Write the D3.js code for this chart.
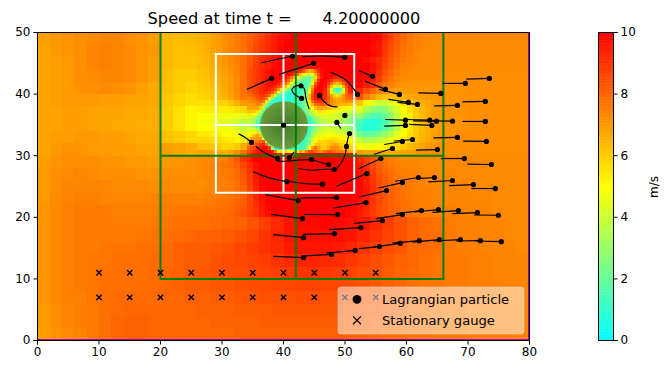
<!DOCTYPE html>
<html>
<head>
<meta charset="utf-8">
<script src="https://cdn.jsdelivr.net/npm/d3@7"></script>
<style>
  body { margin: 0; background: #fff; }
  text { font-family: "DejaVu Sans", sans-serif; fill: #000; }
</style>
</head>
<body>
<svg id="svg" width="669" height="374"></svg>
<script>
// speed in tenths of m/s. rows run top to bottom
var coarseX0 = 0, coarseStep = 2, coarseTopY = 48;
var coarseSpeed = [
[69,70,71,72,73,74,74,72,71,69,64,63,64,66,72,76,82,90,98,100,100,100,100,100,100,100,100,98,88,80,76,74,73,73,73,73,73,73,73,73],
[68,70,71,72,74,75,74,73,71,70,64,62,63,65,71,75,82,90,98,100,100,100,100,100,100,100,100,96,86,78,75,74,73,73,73,73,73,73,73,73],
[68,69,70,72,74,75,74,73,71,69,64,62,62,64,70,74,83,92,98,100,100,96,96,100,100,100,100,95,84,78,74,73,73,73,73,73,73,73,73,73],
[68,69,70,72,73,74,74,73,71,69,63,60,60,62,68,73,83,94,100,75,25,30,90,100,90,100,98,92,80,74,72,72,72,72,72,72,72,72,72,72],
[68,69,70,71,72,73,72,71,69,67,62,60,58,60,66,73,83,94,70,20,25,85,90,30,90,92,85,75,70,69,70,70,71,71,71,72,72,72,72,72],
[68,69,70,70,70,69,69,68,68,67,61,58,56,56,58,66,70,60,10,10,15,45,80,72,70,60,45,40,45,55,63,68,70,71,71,72,72,72,72,72],
[68,68,69,69,68,68,68,67,67,66,60,56,52,50,48,47,45,25,10,10,10,25,40,50,46,30,15,15,28,46,60,66,70,71,71,72,72,72,72,72],
[68,68,69,69,68,68,67,67,66,66,60,56,52,50,48,46,38,35,10,10,10,25,45,45,40,25,8,8,26,46,60,66,70,71,71,72,72,72,72,72],
[68,69,69,70,70,69,69,68,67,67,62,60,58,58,56,54,53,70,30,10,10,30,55,50,52,45,34,38,46,54,62,67,71,71,72,72,72,72,72,72],
[68,70,71,71,70,70,69,69,68,68,69,68,66,68,67,68,78,90,98,60,30,55,70,85,78,70,68,66,63,67,70,72,72,72,72,72,72,72,72,72],
[69,71,72,72,72,71,71,70,70,69,70,71,72,73,75,77,81,92,100,100,100,100,100,100,100,100,94,85,78,75,74,74,74,73,73,73,73,73,73,73],
[70,72,73,74,73,72,72,72,71,71,72,72,72,73,74,76,79,89,100,100,100,100,100,100,100,100,98,89,81,77,75,74,74,74,73,73,73,73,73,73],
[70,72,74,74,74,74,73,73,73,72,73,73,73,73,74,76,78,87,100,100,100,100,100,100,100,100,99,91,83,79,76,75,74,74,74,73,73,73,73,73],
[70,73,74,75,75,74,74,74,74,74,75,75,75,75,76,77,80,86,96,100,100,100,100,100,100,99,96,90,84,80,77,75,75,74,74,74,74,73,73,73],
[71,73,75,76,76,76,75,75,75,75,76,77,77,78,79,80,82,87,94,99,100,100,100,100,99,98,95,88,84,80,77,76,75,75,74,74,74,73,73,73],
[71,73,75,76,76,76,76,76,76,76,77,78,78,78,79,80,81,84,88,92,96,98,98,99,98,97,96,92,88,84,81,79,78,76,75,75,74,74,73,73],
[71,73,75,76,76,76,76,76,77,77,78,79,80,81,81,82,84,86,90,93,96,97,97,97,97,96,93,90,87,84,81,79,78,76,75,75,74,74,73,73],
[71,73,75,76,76,77,77,77,78,78,79,81,82,82,83,84,86,88,90,92,95,96,96,96,95,93,90,87,85,83,80,79,78,76,75,75,74,74,74,73],
[71,73,75,76,77,77,78,78,78,79,79,81,82,82,84,85,86,87,88,90,92,93,93,92,91,89,87,85,83,81,80,78,77,76,76,75,75,74,74,74],
[71,73,75,76,77,78,78,78,78,79,80,81,82,83,84,85,85,86,87,88,89,90,90,89,88,87,85,84,82,80,79,78,77,76,76,75,75,74,74,74],
[71,73,75,76,77,78,78,78,79,79,80,81,82,82,83,83,84,85,85,86,86,87,87,86,86,85,84,83,81,80,78,77,77,76,76,75,75,75,74,74],
[71,73,75,75,77,78,79,79,79,79,80,80,81,81,82,82,83,83,84,84,84,85,85,84,84,83,83,82,80,79,78,77,76,76,76,75,75,75,74,74],
[70,72,74,75,76,78,79,80,80,80,80,80,80,81,81,81,82,82,82,83,83,83,83,83,83,82,82,81,80,79,78,77,76,76,76,75,75,75,75,74],
[70,72,74,75,76,78,80,81,81,80,80,80,80,80,81,81,81,81,82,82,82,82,82,82,82,81,81,80,79,78,78,77,76,76,76,75,75,75,75,74],
[69,71,73,74,76,78,80,81,81,80,80,80,80,80,80,80,81,81,81,81,81,81,81,81,81,80,80,79,78,78,77,77,76,76,76,75,75,75,75,74]
];

var fineX0 = 26, fineStep = 1, fineTopY = 49;
var fineSpeed = [
[65,66,68,70,72,74,76,78,81,84,87,90,93,96,98,100,100,100,100,100,100,100,100,100,100,100,100,100,99,98,92,87,83,80,77,75,74,73,73,73],
[65,66,68,70,72,74,76,78,81,85,88,91,94,97,99,100,100,100,100,100,100,100,100,100,100,100,100,100,98,97,91,86,82,79,76,75,74,73,73,73],
[64,66,68,70,72,74,76,78,82,86,89,92,95,98,100,100,100,100,100,100,100,100,100,100,100,100,100,100,97,96,90,85,81,78,76,74,74,73,73,73],
[64,65,67,69,71,73,75,78,82,86,90,93,96,99,100,100,100,100,100,100,100,100,100,100,100,100,100,100,98,96,89,84,80,77,75,74,73,73,73,73],
[63,65,67,69,71,73,75,78,82,87,91,94,97,100,100,100,100,100,100,100,100,100,100,100,100,100,100,98,95,92,88,83,79,76,75,74,73,73,73,73],
[63,64,66,68,70,72,74,78,83,88,92,95,98,100,100,100,100,98,96,97,100,100,100,100,100,100,100,100,97,93,86,82,78,75,74,73,73,73,73,73],
[62,63,65,67,69,71,74,78,83,88,93,96,99,100,98,88,60,45,50,75,95,100,100,100,100,100,100,99,96,91,84,80,76,74,73,73,73,73,73,73],
[61,62,64,66,68,70,73,78,83,88,94,97,100,96,75,45,25,22,30,65,90,97,90,90,97,100,100,98,94,88,81,77,74,73,72,72,72,72,72,72],
[60,61,63,65,67,70,73,78,83,89,95,98,96,72,35,15,18,30,60,92,100,90,65,70,88,100,99,95,90,84,77,74,72,71,71,71,71,71,71,71],
[59,60,62,64,66,69,73,78,83,88,94,92,70,35,20,20,25,38,85,100,92,62,12,30,75,95,92,85,80,75,72,70,69,69,70,70,70,70,71,71],
[58,59,61,63,65,68,72,77,80,82,85,70,20,12,10,12,20,30,55,96,96,85,62,62,78,88,84,75,68,64,62,62,63,65,67,68,69,70,70,71],
[56,56,57,58,59,62,66,70,68,68,55,15,10,10,10,10,12,20,35,55,80,80,75,72,72,70,62,52,45,40,40,45,50,55,60,63,66,68,69,70],
[53,54,54,54,53,54,56,58,55,52,38,12,10,10,10,10,10,12,25,40,55,58,55,55,58,55,45,35,28,25,28,35,42,50,56,60,64,67,69,70],
[50,50,50,48,47,47,46,45,42,35,20,10,10,10,10,10,10,10,15,30,42,48,50,50,48,42,30,20,15,15,20,28,38,46,54,60,63,66,68,70],
[48,48,47,45,44,43,40,36,30,22,12,10,10,10,10,10,10,10,10,25,38,45,45,44,40,30,15,8,6,8,15,24,35,45,53,59,63,66,68,70],
[50,50,49,48,47,46,43,38,32,30,22,10,10,10,10,10,10,10,20,35,42,45,42,40,35,25,12,7,8,10,16,26,36,46,54,60,63,66,68,70],
[54,54,53,52,50,50,48,44,42,65,45,10,10,10,10,10,10,10,25,35,45,48,48,45,42,32,22,18,20,24,30,36,44,50,56,60,64,66,69,70],
[58,58,57,56,55,54,52,53,60,70,72,30,8,10,10,10,10,10,30,55,55,50,50,52,52,45,38,34,35,38,42,46,50,54,58,62,65,67,69,71],
[62,62,61,60,58,58,60,66,72,78,88,85,30,10,10,10,10,12,40,62,58,55,65,70,65,55,50,46,48,50,52,54,57,60,63,66,68,70,71,72],
[68,68,68,67,66,68,72,78,84,90,95,98,90,60,25,30,70,55,60,68,70,78,85,85,78,70,70,68,68,68,66,66,67,68,69,70,71,72,72,72],
[73,73,74,74,75,78,83,90,95,99,100,100,100,100,95,100,100,100,100,100,100,100,100,100,100,98,92,88,84,80,77,75,74,73,73,73,73,73,73,73],
[73,74,75,76,77,78,81,86,92,97,100,100,100,100,100,100,100,100,100,100,100,100,100,100,100,100,94,90,85,81,78,76,75,74,74,74,73,73,73,73],
[73,74,75,75,76,77,79,84,90,96,100,100,100,100,100,100,100,100,100,100,100,100,100,100,100,100,97,92,87,83,80,78,76,75,74,74,74,73,73,73],
[73,73,74,75,76,77,79,83,89,95,100,100,100,100,100,100,100,100,100,100,100,100,100,100,100,100,98,94,89,85,81,79,77,76,75,75,74,74,74,74],
[72,73,74,75,75,76,78,82,88,94,99,100,100,100,100,100,100,100,100,100,100,100,100,100,100,100,99,95,90,86,82,80,78,77,76,75,75,74,74,74],
[73,74,74,75,76,76,78,81,87,93,98,100,100,100,100,100,100,100,100,100,100,100,100,100,100,100,99,96,91,87,83,81,79,77,76,75,75,75,74,74],
[74,75,75,76,76,77,79,81,86,92,97,100,100,100,100,100,100,100,100,100,100,100,100,100,100,99,98,95,90,86,83,81,79,78,76,75,75,75,74,74],
[75,76,76,77,77,78,80,82,86,91,96,99,100,100,100,100,100,100,100,100,100,100,100,100,100,99,97,94,90,86,83,81,79,78,77,76,75,75,74,74],
[76,77,77,78,78,79,81,83,86,90,95,98,100,100,100,100,100,100,100,100,100,100,100,100,99,98,96,93,89,85,83,81,80,78,77,76,75,75,74,74],
[77,78,78,79,79,80,82,84,87,90,94,97,99,100,100,100,100,100,100,100,100,100,100,100,99,97,95,92,88,85,83,81,80,78,77,76,76,75,75,74]
];

// half unit cells around the island
var nearX0 = 34, nearStep = 0.5, nearTopY = 43.5;
var nearSpeed = [
[84,86,88,90,92,94,96,98,100,100,100,100, 100,100,100,98,96,92,85,72,66,68,78,90, 98,100,100,100,100,100,100,100,100,100,100,100],
[84,86,88,90,92,94,96,98,100,100,100,100, 100,100,96,90,80,62,50,42,38,48,65,85, 96,100,100,100,100,100,100,100,100,100,100,100],
[84,86,88,90,92,94,96,98,100,100,100,99, 96,90,78,65,50,38,28,22,20,32,55,80, 95,100,100,98,94,92,94,98,100,100,100,100],
[83,85,87,89,91,93,96,98,100,100,98,95, 90,80,65,48,32,22,18,15,20,38,65,90, 100,100,96,90,84,80,84,90,98,100,100,100],
[83,85,87,89,91,93,96,98,100,98,94,88, 80,65,48,30,18,14,15,15,25,48,80,96, 100,98,90,78,68,62,68,80,92,100,100,100],
[83,85,87,89,91,94,96,98,96,92,86,78, 62,45,28,16,12,12,14,18,30,65,90,100, 100,96,82,62,45,35,45,65,85,98,100,100],
[83,85,87,89,92,94,96,94,90,84,70,55, 38,25,15,10,10,12,15,20,40,75,96,100, 100,94,76,48,18,8,15,45,78,95,100,98],
[82,84,86,88,92,94,92,88,82,68,48,28, 18,12,10,10,10,12,18,25,50,82,98,100, 100,92,76,52,30,20,30,55,78,92,95,92],
[78,80,83,86,90,90,86,78,62,38,18,12, 10,8,8,8,10,14,20,28,60,86,96,100, 98,92,80,68,58,55,60,70,80,85,86,84],
[74,76,79,83,86,86,78,55,28,12,10,8, 8,8,8,10,12,14,20,30,62,86,94,96, 96,90,82,72,66,65,68,72,78,80,80,78],
[72,73,75,78,80,76,55,25,12,8,8,8, 8,8,8,10,12,14,20,32,55,78,88,90, 90,86,80,74,70,68,68,70,72,72,70,66],
[70,70,72,74,72,60,30,12,8,8,8,8, 8,8,8,8,10,14,22,30,45,65,78,80, 82,80,76,72,68,66,64,64,64,62,60,56],
[68,68,68,68,60,38,15,8,8,8,8,8, 8,8,8,8,8,12,20,28,38,50,62,68, 68,66,62,60,58,56,54,52,52,50,46,44],
[62,62,60,55,42,18,8,8,8,8,8,8, 8,8,8,8,8,8,14,25,32,40,50,56, 56,54,52,50,48,46,44,44,42,40,38,34],
[55,52,48,42,25,8,8,8,8,8,8,8, 8,8,8,8,8,8,10,18,28,34,40,44, 46,46,45,44,42,40,40,38,36,34,32,28],
[45,42,38,28,15,8,8,8,8,8,8,8, 8,8,8,8,8,8,8,8,14,24,30,36, 40,42,42,42,42,40,38,36,34,30,26,22],
[40,36,30,20,10,8,8,8,8,8,8,8, 8,8,8,8,8,8,8,8,10,18,26,32, 36,38,40,40,40,38,36,32,30,26,22,18],
[38,34,28,15,8,8,8,8,8,8,8,8, 8,8,8,8,8,8,8,8,8,12,22,30, 34,36,38,38,38,36,34,32,30,26,22,16],
[40,36,30,18,8,8,8,8,8,8,8,8, 8,8,8,8,8,8,8,8,10,20,26,32, 36,38,40,40,38,36,36,34,32,28,24,18],
[44,42,40,35,15,8,8,8,8,8,8,8, 8,8,8,8,8,8,8,8,12,22,30,34, 38,40,42,42,40,38,36,36,34,30,26,22],
[46,46,52,58,30,8,8,8,8,8,8,8, 8,8,8,8,8,8,8,8,15,25,34,40, 42,44,45,45,44,42,42,40,38,36,30,28],
[48,55,65,68,60,15,8,8,8,8,8,8, 8,8,8,8,8,8,8,10,18,30,40,46, 46,48,50,50,48,48,46,46,44,42,38,34],
[58,66,70,72,72,40,8,8,8,8,8,8, 8,8,8,8,8,8,10,15,25,38,48,52, 52,54,54,56,56,54,52,52,50,48,45,40],
[66,72,74,76,80,85,30,8,8,8,8,8, 8,8,8,8,8,10,12,15,24,38,52,58, 58,58,60,62,60,58,56,56,54,52,50,46],
[74,78,82,86,90,94,80,20,8,8,8,8, 8,8,8,10,12,10,12,18,30,48,60,62, 60,58,62,66,68,66,60,58,58,56,54,50],
[80,84,88,92,96,99,98,88,30,10,10,12, 14,18,12,12,15,12,15,25,50,70,78,70, 62,60,66,72,74,72,66,62,62,60,58,55],
[84,88,92,96,100,100,100,99,96,75,50,55, 60,50,45,55,40,70,60,75,85,85,80,74, 72,78,84,82,78,76,76,74,72,68,64,62],
[90,94,98,100,100,100,100,100,100,100,92,96, 100,100,98,85,98,100,100,100,100,100,100,100, 100,100,100,100,100,100,100,100,100,100,98,96],
[92,96,100,100,100,100,100,100,100,100,100,100, 100,100,100,100,100,100,100,100,100,100,100,100, 100,100,100,100,100,100,100,100,100,100,100,100],
[94,97,100,100,100,100,100,100,100,100,100,100, 100,100,100,100,100,100,100,100,100,100,100,100, 100,100,100,100,100,100,100,100,100,100,100,100]
];

var islandCenter = [40.1, 34.95];
var islandRadius = 3.9;

var speedTicks = [0, 2, 4, 6, 8, 10];
var xTicks = [0, 10, 20, 30, 40, 50, 60, 70, 80];
var yTicks = [0, 10, 20, 30, 40, 50];

// refinement patches
var greenBox = {x: [20, 66], y: [10, 50], crossX: 42, crossY: 30};
var whiteBox = {x: [29, 51.5], y: [24, 46.5], crossX: 40, crossY: 35};

var gaugeX = [10, 15, 20, 25, 30, 35, 40, 45, 50, 55];
var gaugeY = [7, 11];

// particle paths, older points first, the last one is where the dot sits
var particles = [
[[36.44,45.09],[41.47,46.18]],
[[43.1,46.07],[46.35,46.18],[49.98,45.97]],
[[39.31,43.2],[44.88,44.99]],
[[34.06,40.76],[38.06,42.55]],
[[47.7,43.53],[50.15,42.28],[52.03,39.95]],
[[44.18,37.56],[43.65,39.3],[43.37,40.92],[42.84,41.35]],
[[42.72,41.46],[41.75,41.19],[41.37,40.65],[41.75,40],[42.94,39.3]],
[[48.78,37.93],[47.7,38.05],[46.62,38.75],[45.86,39.79]],
[[49.6,36.42],[49.98,36.54]],
[[49.33,34.42],[48.68,35.4]],
[[40.01,34.96]],
[[50.25,31.5],[50.4,32.5],[50.73,33.6]],
[[48.5,27.76],[49.33,28.73],[49.98,30.08],[50.25,31.5]],
[[42.4,27.92],[44.72,27.64],[46.9,27.8],[48.25,27.76]],
[[44.46,29.38],[45.81,28.99],[47.32,28.57]],
[[39.04,29.1],[40.13,29.1],[42.56,29.27],[44.56,29.38]],
[[35.5,31.5],[37.15,30.36],[39.04,29.54]],
[[32.7,33.54],[33.7,33],[34.81,32.15]],
[[41.75,30.62],[40.94,29.71]],
[[35.09,27.37],[37.69,26.39],[40.56,25.8]],
[[40.66,25.85],[43.65,25.48],[46.35,25.37]],
[[48.62,25.04],[51.22,26.13],[53.55,27.1]],
[[52.31,43.79],[54.47,42.88]],
[[53.28,42.11],[56.58,40.76]],
[[55.56,40.76],[58.85,39.95]],
[[57.07,39.14],[60.32,38.65]],
[[58.53,38.65],[61.78,38.33]],
[[61.94,40.21],[65.58,40.11]],
[[65.84,41.74],[69.57,41.74]],
[[69.74,42.44],[73.47,42.55]],
[[64.49,38.1],[68.28,38.16]],
[[69.09,38.75],[72.82,38.81]],
[[56.53,35.88],[59.83,35.77]],
[[59.89,35.88],[63.79,35.77]],
[[61.08,35.66],[64.87,35.6]],
[[63.68,35.66],[67.47,35.6]],
[[69.09,35.56],[72.82,35.56]],
[[56.37,34.8],[59.83,34.91]],
[[60.43,35.07],[64.12,34.91]],
[[57.99,32.36],[60.97,32.63]],
[[56.37,31.82],[59.34,32.31]],
[[54.74,30.24],[57.72,31.17]],
[[64.38,32.89],[68.28,32.96]],
[[69.2,32.36],[72.99,32.31]],
[[61.52,30.89],[65.03,31]],
[[52.31,27.92],[55.83,29.54]],
[[65.58,29.54],[69.41,29.54]],
[[69.9,28.62],[73.8,28.57]],
[[61.94,26.29],[64.54,26.46]],
[[58.15,25.85],[61.94,26.46]],
[[55.44,24.76],[59.34,25.64]],
[[52.31,23.3],[56.74,24.34]],
[[63.56,25.74],[67.47,25.97]],
[[66.93,25.15],[70.87,25.32]],
[[70.55,24.67],[74.45,24.67]],
[[42.84,23.14],[48.62,23.2]],
[[37.04,23.69],[42.4,22.71]],
[[48.13,21.51],[53.4,22.39]],
[[38.01,20.49],[43.1,19.79]],
[[43.37,20.49],[48.78,20.44]],
[[47.43,18],[52.58,18.33]],
[[38.34,17.19],[43.26,16.7]],
[[43.21,17.24],[48.3,17.35]],
[[38.34,13.66],[43.26,13.45]],
[[42.84,13.71],[47.81,13.98]],
[[46.99,14.2],[51.66,14.63]],
[[51.5,19],[56.09,19.46]],
[[55.02,19.79],[59.34,20.44]],
[[58.27,20.6],[62.43,21.09]],
[[61.24,20.86],[65.2,21.25]],
[[64.22,20.81],[68.44,21.09]],
[[67.47,20.6],[71.53,20.76]],
[[70.99,20.37],[74.94,20.33]],
[[52.31,14.91],[55.6,15.24]],
[[54.47,15.17],[58.97,15.77]],
[[57.72,15.82],[62.1,16.21]],
[[60.97,15.98],[65.35,16.37]],
[[64.33,16.15],[68.76,16.37]],
[[68.02,16.15],[72.01,16.21]],
[[71.26,16.15],[75.42,16.05]]
];

var svg = d3.select("#svg");

var x = d3.scaleLinear().domain([0, 80]).range([37.5, 529.5]);
var y = d3.scaleLinear().domain([0, 50]).range([340.5, 32.5]);
var speedColor = d3.scaleLinear()
  .domain([0, 5, 10])
  .range(["#00ffff", "#ffff00", "#ff0000"]);

var plot = svg.append("g");

function drawCells(rows, x0, step, topY) {
  rows.forEach(function(row, r) {
    plot.append("g").selectAll("rect")
      .data(row)
      .enter()
      .append("rect")
      .attr("x", function(d, i) { return x(x0 + i * step); })
      .attr("y", y(topY - r * step + step))
      .attr("width", function(d, i) { return x(x0 + (i + 1) * step) - x(x0 + i * step); })
      .attr("height", y(0) - y(step))
      .attr("shape-rendering", "crispEdges")
      .attr("fill", function(d) { return speedColor(d / 10); });
  });
}
drawCells(coarseSpeed, coarseX0, coarseStep, coarseTopY);
drawCells(fineSpeed, fineX0, fineStep, fineTopY);
drawCells(nearSpeed, nearX0, nearStep, nearTopY);

// island
var grad = svg.append("defs").append("radialGradient").attr("id", "island");
grad.append("stop").attr("offset", "0%").attr("stop-color", "#3f7a2e");
grad.append("stop").attr("offset", "100%").attr("stop-color", "#6c9c38");
plot.append("ellipse")
  .attr("cx", x(islandCenter[0]))
  .attr("cy", y(islandCenter[1]))
  .attr("rx", x(islandRadius) - x(0))
  .attr("ry", y(0) - y(islandRadius))
  .attr("fill", "url(#island)");

// the top side of the green box lies on the spine, so it is left open
function drawBox(box, color, closed) {
  var g = plot.append("g").attr("fill", "none").attr("stroke", color).attr("stroke-width", 2);
  g.append("path")
    .attr("d", "M" + x(box.x[0]) + "," + y(box.y[1])
      + "V" + y(box.y[0])
      + "H" + x(box.x[1])
      + "V" + y(box.y[1])
      + (closed ? "Z" : ""));
  g.append("line")
    .attr("x1", x(box.crossX)).attr("x2", x(box.crossX))
    .attr("y1", y(box.y[0])).attr("y2", y(box.y[1]));
  g.append("line")
    .attr("x1", x(box.x[0])).attr("x2", x(box.x[1]))
    .attr("y1", y(box.crossY)).attr("y2", y(box.crossY));
}
drawBox(whiteBox, "#fff", true);
drawBox(greenBox, "#008000", false);

var trail = d3.line()
  .x(function(d) { return x(d[0]); })
  .y(function(d) { return y(d[1]); })
  .curve(d3.curveCatmullRom);

plot.append("g").selectAll("path")
  .data(particles)
  .enter()
  .append("path")
  .attr("d", trail)
  .attr("fill", "none")
  .attr("stroke", "#000")
  .attr("stroke-width", 1.2);

plot.append("g").selectAll("circle")
  .data(particles)
  .enter()
  .append("circle")
  .attr("cx", function(d) { return x(d[d.length - 1][0]); })
  .attr("cy", function(d) { return y(d[d.length - 1][1]); })
  .attr("r", 2.6)
  .attr("fill", "#000");

var cross = d3.symbol().type(d3.symbolX).size(20);
var gauges = d3.cross(gaugeX, gaugeY);
plot.append("g").selectAll("path")
  .data(gauges)
  .enter()
  .append("path")
  .attr("d", cross)
  .attr("transform", function(d) { return "translate(" + x(d[0]) + "," + y(d[1]) + ")"; })
  .attr("fill", "none")
  .attr("stroke", "#000")
  .attr("stroke-width", 1.4);

// magenta domain edge sits just inside the spines
plot.append("path")
  .attr("d", "M" + x(0) + "," + (y(0) - 1) + "H" + (x(80) - 1) + "V" + y(50))
  .attr("fill", "none")
  .attr("stroke", "#a000a0")
  .attr("stroke-width", 1);

// axes
var axisX = d3.axisBottom(x).tickValues(xTicks).tickSize(4).tickPadding(3).offset(0);
var axisY = d3.axisLeft(y).tickValues(yTicks).tickSize(4).tickPadding(3).offset(0);
svg.append("g").attr("transform", "translate(0," + y(0) + ")").call(axisX);
svg.append("g").attr("transform", "translate(" + x(0) + ",0)").call(axisY);

svg.append("path")
  .attr("d", "M" + x(0) + "," + y(50) + "H" + x(80) + "V" + y(0))
  .attr("fill", "none")
  .attr("stroke", "#000");

svg.selectAll(".tick text").style("font-family", '"DejaVu Sans"').style("font-size", "12px");

svg.append("text")
  .attr("x", 284)
  .attr("y", 24)
  .attr("text-anchor", "middle")
  .style("font-size", "16.2px")
  .style("white-space", "pre")
  .text("Speed at time t =      4.20000000");

// legend
var legend = svg.append("g");
legend.append("rect")
  .attr("x", 338).attr("y", 287).attr("width", 186).attr("height", 47).attr("rx", 3)
  .attr("fill", "#fff").attr("fill-opacity", 0.5)
  .attr("stroke", "#ddd").attr("stroke-opacity", 0.5);
legend.append("circle").attr("cx", 357).attr("cy", 299.3).attr("r", 4.4).attr("fill", "#000");
legend.append("path")
  .attr("d", d3.symbol().type(d3.symbolX).size(42))
  .attr("transform", "translate(357,320.3)")
  .attr("fill", "none").attr("stroke", "#000").attr("stroke-width", 1.2);
legend.append("text").attr("x", 382).attr("y", 304).style("font-size", "13.1px").text("Lagrangian particle");
legend.append("text").attr("x", 382).attr("y", 325).style("font-size", "13.1px").text("Stationary gauge");

// colorbar
var barY = d3.scaleLinear().domain([0, 10]).range([340.5, 32.5]);
var barSteps = d3.range(0, 10, 0.05);
svg.append("g").selectAll("rect")
  .data(barSteps)
  .enter()
  .append("rect")
  .attr("x", 598)
  .attr("y", function(d) { return barY(d + 0.05); })
  .attr("width", 15)
  .attr("height", barY(0) - barY(0.05) + 0.5)
  .attr("fill", function(d) { return speedColor(d); });
var barAxis = d3.axisRight(barY).tickValues(speedTicks).tickSize(4).tickPadding(3).offset(0);
svg.append("g").attr("transform", "translate(613.5,0)").call(barAxis)
  .selectAll("text").style("font-size", "12px").style("font-family", '"DejaVu Sans"');
svg.append("rect")
  .attr("x", 598.5).attr("y", 32.5).attr("width", 15).attr("height", 308)
  .attr("fill", "none").attr("stroke", "#000");
svg.append("text")
  .attr("transform", "translate(658,187) rotate(-90)")
  .attr("text-anchor", "middle")
  .style("font-size", "12px")
  .text("m/s");
</script>
</body>
</html>
